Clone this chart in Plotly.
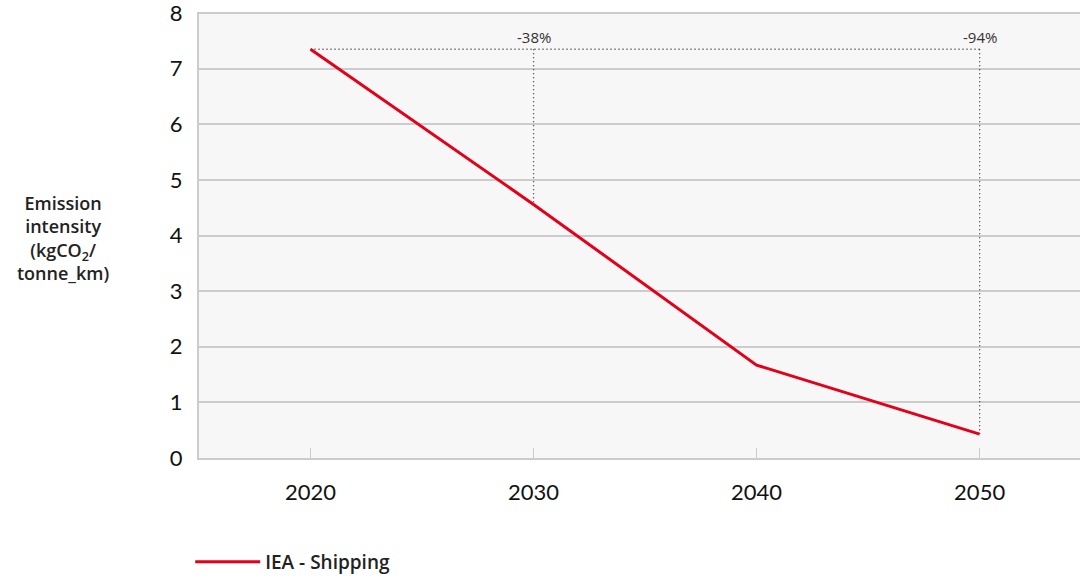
import plotly.graph_objects as go

# data
years = [2020, 2030, 2040, 2050]
intensity = [7.35, 4.56, 1.67, 0.43]
series_name = "IEA - Shipping"
ref_year = 2020
marker_years = [2030, 2050]
marker_labels = ["-38%", "-94%"]

RED = "#e2001a"
AXIS = "#cccccc"
FONT = "Lato"
LABEL_FONT = "Open Sans"

fig = go.Figure()

base = intensity[years.index(ref_year)]

# dotted reference lines
fig.add_trace(go.Scatter(
    x=[ref_year, years[-1]], y=[base, base],
    mode="lines", line=dict(color="#333333", width=1.3, dash="1px,3px"),
    showlegend=False, hoverinfo="skip",
))
for yr in marker_years:
    fig.add_trace(go.Scatter(
        x=[yr, yr], y=[base, intensity[years.index(yr)]],
        mode="lines", line=dict(color="#333333", width=1.3, dash="1px,3px"),
        showlegend=False, hoverinfo="skip",
    ))

fig.add_trace(go.Scatter(
    x=years, y=intensity, mode="lines", name=series_name,
    line=dict(color=RED, width=3),
))

for yr, lbl in zip(marker_years, marker_labels):
    fig.add_annotation(x=yr, y=base, text=lbl, showarrow=False,
                       yanchor="bottom", yshift=0,
                       font=dict(family=LABEL_FONT, size=15, color="#333333"))

fig.add_annotation(
    xref="paper", yref="paper", x=-0.154, y=0.493, xanchor="center", yanchor="middle",
    text="Emission<br>intensity<br>(kgCO<sub>2</sub>/<br>tonne_km)",
    showarrow=False, align="center",
    font=dict(family=LABEL_FONT, size=18, color="#222222", weight=600),
)

fig.update_layout(
    width=1080, height=577,
    margin=dict(l=199, r=0, t=12, b=119, autoexpand=False),
    paper_bgcolor="white",
    plot_bgcolor="#f7f7f7",
    font=dict(family=FONT, color="#111111"),
    showlegend=True,
    legend=dict(orientation="h", x=-0.01, xanchor="left", y=-0.233,
                yanchor="middle", itemwidth=65,
                font=dict(family=LABEL_FONT, size=19, color="#222222", weight=600)),
    xaxis=dict(range=[2015, 2054.5], tickvals=years, showgrid=False,
               showline=True, linecolor=AXIS, linewidth=2,
               ticks="inside", tickcolor=AXIS, ticklen=10, tickwidth=1,
               ticklabelstandoff=14,
               tickfont=dict(family=FONT, size=22, color="#111111"),
               zeroline=False),
    yaxis=dict(range=[0, 8.02], tickvals=list(range(0, 9)), showgrid=True,
               gridcolor=AXIS, gridwidth=1.5,
               showline=True, linecolor=AXIS, linewidth=2,
               ticks="", ticklabelstandoff=10, ticklabeloverflow="allow",
               tickfont=dict(family=FONT, size=22, color="#111111"),
               zeroline=False),
)

fig.write_html("out.html", config={"displayModeBar": False},
               post_script="document.body.style.margin='0px';")
